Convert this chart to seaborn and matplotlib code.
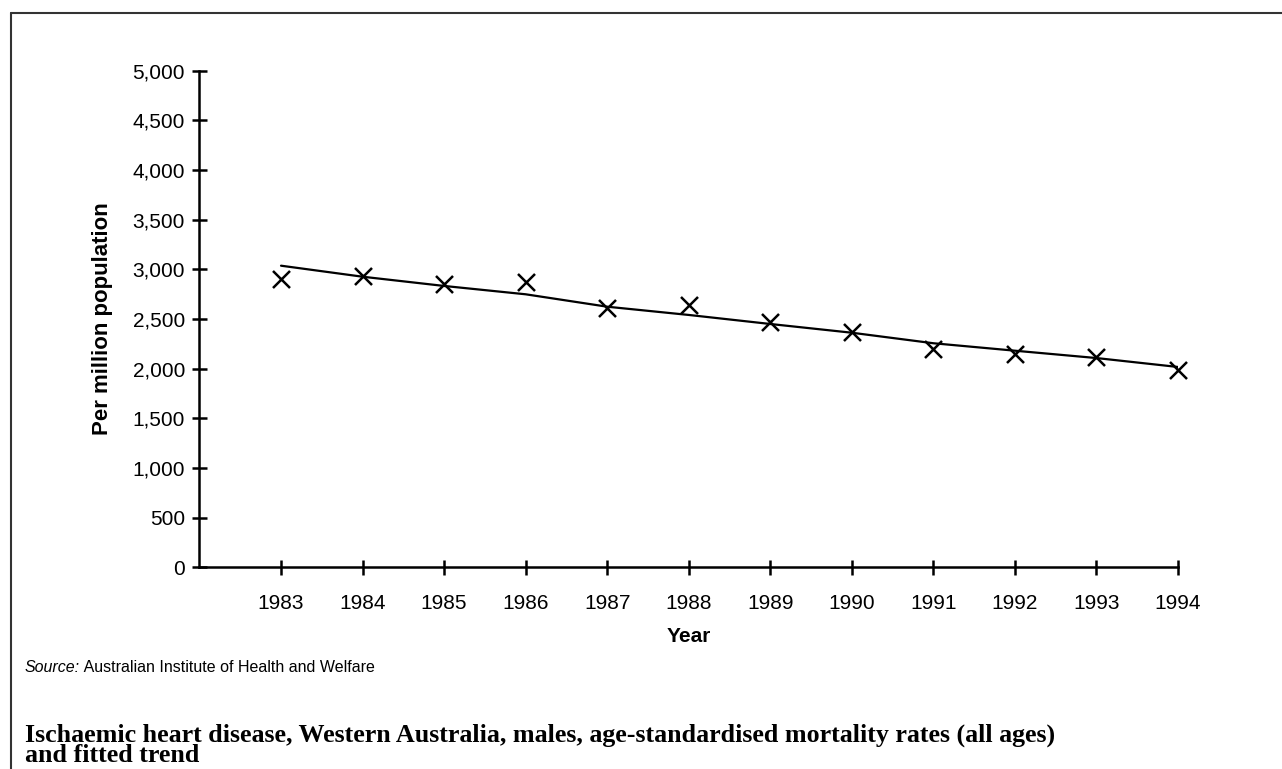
import matplotlib
matplotlib.use("Agg")
import matplotlib.pyplot as plt
from matplotlib.lines import Line2D
import pandas as pd
import seaborn as sns

# data
years = [1983, 1984, 1985, 1986, 1987, 1988, 1989, 1990, 1991, 1992, 1993, 1994]
rates = [2900, 2933, 2850, 2876, 2608, 2641, 2473, 2366, 2194, 2151, 2117, 1987]
trend = [3037, 2926, 2833, 2749, 2624, 2541, 2450, 2362, 2256, 2181, 2107, 2017]
y_ticks = [0, 500, 1000, 1500, 2000, 2500, 3000, 3500, 4000, 4500, 5000]

df = pd.DataFrame({"Year": years, "Rate": rates, "Trend": trend})

sns.set_theme(style="white")
plt.rcParams["font.family"] = ["Liberation Sans", "DejaVu Sans"]

fig = plt.figure(figsize=(12.82, 7.69), dpi=100)
ax = fig.add_axes([0.1556, 0.2623, 0.7633, 0.6457])

sns.lineplot(data=df, x="Year", y="Trend", color="black", linewidth=1.6, ax=ax)
sns.scatterplot(data=df, x="Year", y="Rate", marker="x", s=150, color="black",
                linewidth=1.8, ax=ax, clip_on=False, zorder=3)

ax.set_xlim(1982, 1994)
ax.set_ylim(0, 5000)
ax.set_xticks(years)
ax.set_xticklabels([str(y) for y in years])
ax.set_yticks(y_ticks)
ax.set_yticklabels([f"{v:,}" for v in y_ticks])

for side in ["top", "right"]:
    ax.spines[side].set_visible(False)
for side in ["left", "bottom"]:
    ax.spines[side].set_color("black")
    ax.spines[side].set_linewidth(1.8)

ax.tick_params(axis="both", direction="inout", length=10.8, width=1.8, color="black",
               labelsize=15, labelcolor="black", bottom=True, left=True)
ax.tick_params(axis="x", pad=14)
ax.tick_params(axis="y", pad=5)

ax.set_xlabel("Year", fontweight="bold", fontsize=15, color="black")
ax.set_ylabel("Per million population", fontweight="bold", fontsize=16, color="black")
ax.xaxis.set_label_coords(0.5, -0.12)
ax.yaxis.set_label_coords(-0.088, 0.5)

# source line
src = fig.text(0.0195, 0.132, "Source:", fontsize=11.5, style="italic", va="center", color="black")
ax.annotate(" Australian Institute of Health and Welfare", xy=(1, 0), xycoords=src,
            va="bottom", ha="left", fontsize=11.5, color="black", annotation_clip=False)

# caption
fig.text(0.0195, 0.031,
         "Ischaemic heart disease, Western Australia, males, age-standardised mortality rates (all ages)\nand fitted trend",
         family=["Liberation Serif", "DejaVu Serif"], fontweight="bold", fontsize=18.7,
         va="center", ha="left", linespacing=0.82, color="black")

# frame lines at top and left
fig.add_artist(Line2D([0.0086, 0.0086], [0, 0.9835], transform=fig.transFigure,
                      color="#333333", linewidth=1.5))
fig.add_artist(Line2D([0.0086, 1], [0.9835, 0.9835], transform=fig.transFigure,
                      color="#333333", linewidth=1.5))

fig.savefig("out.png", dpi=100)
